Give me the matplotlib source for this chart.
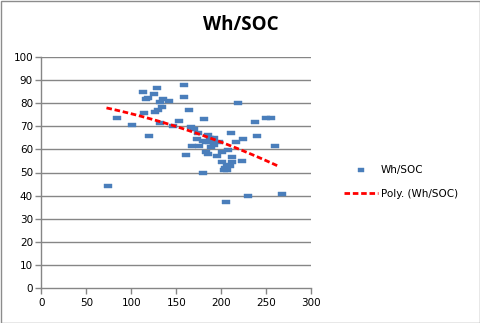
import numpy as np
import matplotlib
matplotlib.use("Agg")
import matplotlib.pyplot as plt
from matplotlib.patches import Rectangle

# Wh used vs SOC readings
wh = [74.4, 83.6, 101.1, 113.3, 128.9, 125.6, 115.8, 119.1, 135.6, 132.2,
      142.2, 158.9, 158.9, 134.4, 130.0, 126.7, 114.4, 164.4, 120.0, 132.2,
      146.7, 153.3, 165.8, 161.1, 218.9, 181.1, 237.8, 249.3, 254.9, 170.0,
      174.4, 185.6, 211.1, 240.0, 173.3, 180.0, 192.2, 187.8, 167.8, 175.6,
      188.9, 197.8, 216.7, 224.4, 260.0, 183.3, 185.6, 195.6, 201.1, 207.8,
      212.2, 223.3, 201.1, 212.2, 206.7, 210.0, 204.4, 203.3, 206.7, 180.0,
      230.0, 205.6, 267.8, 191.1, 186.7, 192.2, 182.6]
soc = [44.3, 73.5, 70.5, 84.7, 86.5, 83.9, 81.7, 82.2, 81.7, 80.4,
       80.9, 87.7, 82.6, 78.3, 77.0, 76.1, 75.7, 77.0, 65.8, 71.4,
       70.1, 72.3, 69.6, 57.6, 80.0, 73.1, 71.8, 73.5, 73.5, 68.8,
       67.1, 66.2, 67.1, 65.8, 64.5, 63.7, 64.9, 64.9, 61.5, 61.5,
       61.1, 63.2, 63.2, 64.5, 61.5, 58.9, 58.1, 57.2, 58.9, 59.8,
       56.8, 55.1, 54.6, 54.6, 53.3, 52.9, 52.0, 51.2, 51.2, 49.9,
       40.0, 37.4, 40.9, 63.2, 63.2, 61.9, 63.2]

xticks = [0, 50, 100, 150, 200, 250, 300]
yticks = list(range(0, 101, 10))

W, H = 481, 323
fig = plt.figure(figsize=(W / 100, H / 100), dpi=100)
fig.patches.append(Rectangle((0.5 / W, 0.5 / H), 1 - 1.5 / W, 1 - 1.5 / H,
                             transform=fig.transFigure, fill=False,
                             edgecolor="#8c8c8c", lw=1))

ax = fig.add_axes([41.3 / W, 1 - 288.3 / H, 270 / W, 231.6 / H])

grid_col = "#868686"
for v in yticks[1:]:
    ax.axhline(v, color=grid_col, lw=1, zorder=1)

# excel-style flat rectangle marker
rect = [(-1, -0.55), (1, -0.55), (1, 0.55), (-1, 0.55), (-1, -0.55)]
ax.scatter(wh, soc, marker=rect, s=26, color="#4a7ebb", lw=0.3,
           edgecolor="#4a7ebb", zorder=3, label="Wh/SOC")

# 2nd order polynomial trendline
x = np.array(wh)
y = np.array(soc)
coef = np.polyfit(x, y, 2)
xs = np.linspace(x.min() - 2, x.max() - 4, 100)
ax.plot(xs, np.polyval(coef, xs), color="#ff0000", lw=2, ls=(0, (2, 1)),
        zorder=4, label="Poly. (Wh/SOC)")

ax.set_xlim(0, 300)
ax.set_ylim(0, 100)
ax.set_xticks(xticks)
ax.set_yticks(yticks)
for s in ["top", "right"]:
    ax.spines[s].set_visible(False)
for s in ["left", "bottom"]:
    ax.spines[s].set_color(grid_col)
    ax.spines[s].set_linewidth(1)
ax.tick_params(axis="both", colors=grid_col, length=4, width=1,
               labelsize=7.5, labelcolor="black")
ax.tick_params(axis="x", pad=3)
ax.tick_params(axis="y", pad=2)
for t in ax.get_xticklabels() + ax.get_yticklabels():
    t.set_family("DejaVu Sans")

fig.text(0.5, 1 - 25 / H, "Wh/SOC", ha="center", va="center",
         fontsize=13.5, fontweight="bold", family="Open Sans")

leg = fig.legend(loc="center left", bbox_to_anchor=(335 / W, 1 - 182 / H),
                 frameon=False, fontsize=7.5, handlelength=3.2,
                 labelspacing=1.3, handletextpad=0.3, markerscale=0.9)
for t in leg.get_texts():
    t.set_family("DejaVu Sans")

fig.savefig("out.png", dpi=100)
